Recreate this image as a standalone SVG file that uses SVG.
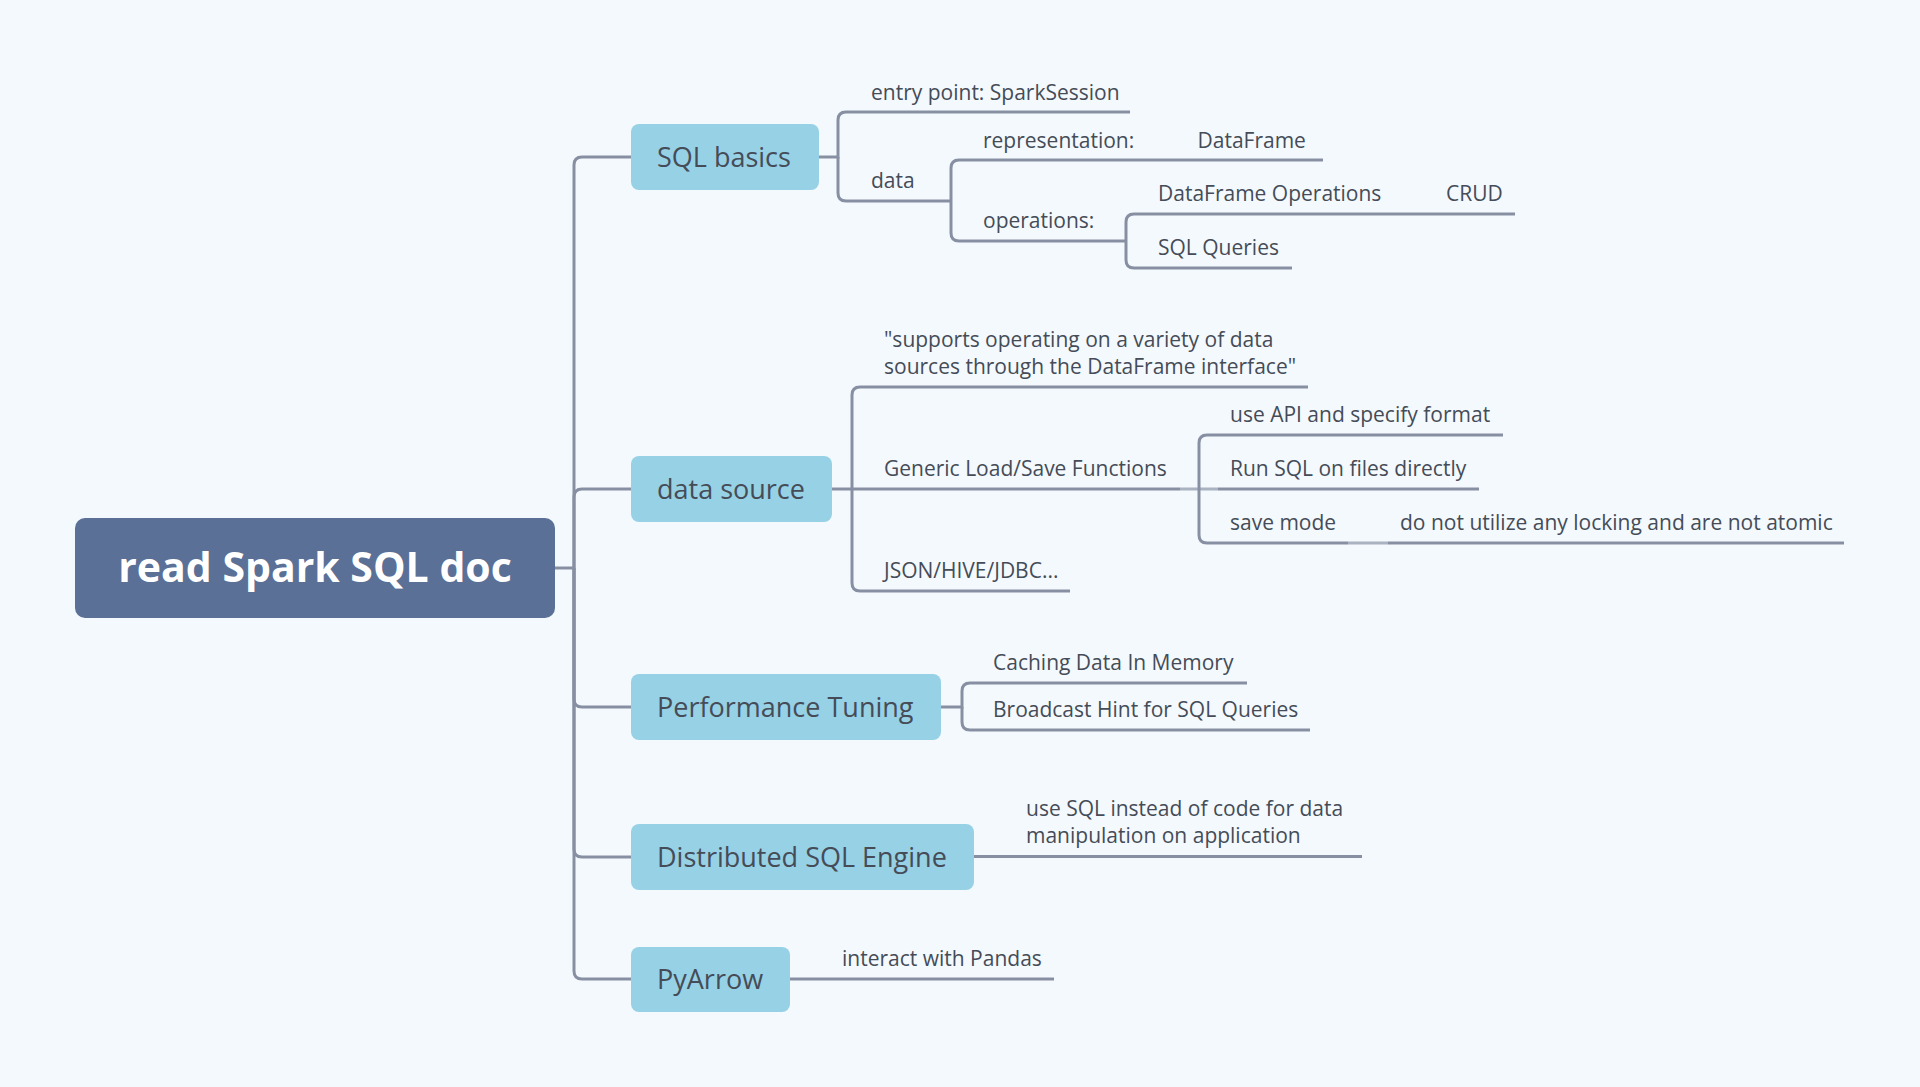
<svg xmlns="http://www.w3.org/2000/svg" width="1920" height="1087" viewBox="0 0 1920 1087">
<style>
.bg{fill:#f4f9fd}
.root rect{fill:#5a7096}
.root text{fill:#ffffff;font-family:"Open Sans","Noto Sans",sans-serif;font-weight:700;font-size:41px}
.main rect{fill:#97d1e6}
.main text{fill:#454c57;font-family:"Open Sans","Noto Sans",sans-serif;font-size:27px}
.sub text{fill:#454c57;font-family:"Open Sans","Noto Sans",sans-serif;font-size:21px}
.conn path{fill:none;stroke:#8790a3;stroke-width:3;stroke-linecap:butt}
.conn path.lt{stroke:#a9b2c1}
</style>
<rect class="bg" x="0" y="0" width="1920" height="1087"/>
<g id="connectors" class="conn">
<path d="M555 568 H574 V165 Q574 157 582 157 H631"/>
<path d="M574 568 V497 Q574 489 582 489 H631"/>
<path d="M574 568 V699 Q574 707 582 707 H631"/>
<path d="M574 568 V849 Q574 857 582 857 H631"/>
<path d="M574 568 V971 Q574 979 582 979 H631"/>
<path d="M819 157 H838 V120 Q838 112 846 112 H1130"/>
<path d="M838 157 V193 Q838 201 846 201 H951"/>
<path d="M951 201 V168 Q951 160 959 160 H1323"/>
<path d="M951 201 V233 Q951 241 959 241 H1126"/>
<path d="M1126 241 V222 Q1126 214 1134 214 H1515"/>
<path d="M1126 241 V260 Q1126 268 1134 268 H1292"/>
<path d="M832 489 H852 V395 Q852 387 860 387 H1308"/>
<path d="M852 489 H1180"/>
<path class="lt" d="M1180 489 H1218"/>
<path d="M852 489 V583 Q852 591 860 591 H1070"/>
<path d="M1199 489 V443 Q1199 435 1207 435 H1503"/>
<path d="M1218 489 H1479"/>
<path d="M1199 489 V535 Q1199 543 1207 543 H1348"/>
<path class="lt" d="M1348 543 H1388"/>
<path d="M1388 543 H1844"/>
<path d="M941 707 H962 V691 Q962 683 970 683 H1247"/>
<path d="M962 707 V722 Q962 730 970 730 H1310"/>
<path d="M974 856.5 H1362"/>
<path d="M790 979 H1054"/>
</g>
<g id="root" class="root">
<rect x="75" y="518" width="480" height="100" rx="10"/>
<text x="315" y="582" text-anchor="middle">read Spark SQL doc</text>
</g>
<g id="sql-basics" class="main">
<rect x="631" y="124" width="188" height="66" rx="8"/>
<text x="657" y="166.5">SQL basics</text>
</g>
<g id="data-source" class="main">
<rect x="631" y="456" width="201" height="66" rx="8"/>
<text x="657" y="498.5">data source</text>
</g>
<g id="performance-tuning" class="main">
<rect x="631" y="674" width="310" height="66" rx="8"/>
<text x="657" y="716.5">Performance Tuning</text>
</g>
<g id="distributed-sql-engine" class="main">
<rect x="631" y="824" width="343" height="66" rx="8"/>
<text x="657" y="866.5">Distributed SQL Engine</text>
</g>
<g id="pyarrow" class="main">
<rect x="631" y="947" width="159" height="65" rx="8"/>
<text x="657" y="989">PyArrow</text>
</g>
<g id="entry-point" class="sub"><text x="871" y="99.5">entry point: SparkSession</text></g>
<g id="data" class="sub"><text x="871" y="188">data</text></g>
<g id="representation" class="sub"><text x="983" y="147.5">representation:</text></g>
<g id="dataframe" class="sub"><text x="1197.5" y="147.5">DataFrame</text></g>
<g id="operations" class="sub"><text x="983" y="228">operations:</text></g>
<g id="dataframe-operations" class="sub"><text x="1158" y="201">DataFrame Operations</text></g>
<g id="crud" class="sub"><text x="1446" y="201">CRUD</text></g>
<g id="sql-queries" class="sub"><text x="1158" y="255">SQL Queries</text></g>
<g id="supports" class="sub"><text x="884" y="346.5">"supports operating on a variety of data</text><text x="884" y="373.5">sources through the DataFrame interface"</text></g>
<g id="generic-load-save" class="sub"><text x="884" y="476">Generic Load/Save Functions</text></g>
<g id="json-hive-jdbc" class="sub"><text x="884" y="578">JSON/HIVE/JDBC...</text></g>
<g id="use-api" class="sub"><text x="1230" y="422">use API and specify format</text></g>
<g id="run-sql" class="sub"><text x="1230" y="476">Run SQL on files directly</text></g>
<g id="save-mode" class="sub"><text x="1230" y="530">save mode</text></g>
<g id="no-locking" class="sub"><text x="1400" y="530">do not utilize any locking and are not atomic</text></g>
<g id="caching" class="sub"><text x="993" y="669.5">Caching Data In Memory</text></g>
<g id="broadcast" class="sub"><text x="993" y="717">Broadcast Hint for SQL Queries</text></g>
<g id="use-sql-instead" class="sub"><text x="1026" y="815.5">use SQL instead of code for data</text><text x="1026" y="842.5">manipulation on application</text></g>
<g id="pandas" class="sub"><text x="842" y="966">interact with Pandas</text></g>
</svg>
